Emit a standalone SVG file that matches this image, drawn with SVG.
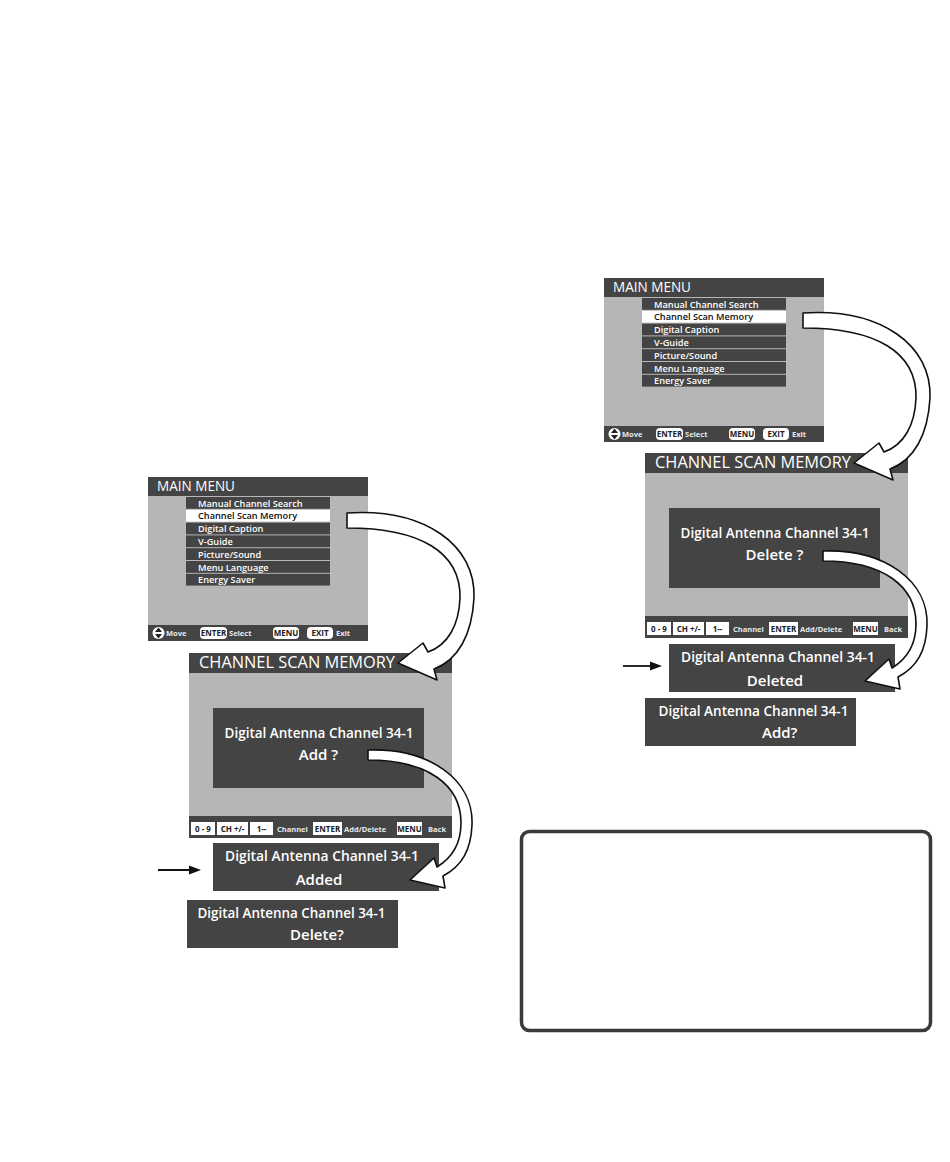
<svg xmlns="http://www.w3.org/2000/svg" width="950" height="1162" viewBox="0 0 950 1162">
<style>
text{font-family:"Open Sans","Noto Sans","DejaVu Sans",sans-serif}
.dark{fill:#444}
.gray{fill:#b6b6b6}
.wt{fill:#fff}
.row{fill:#444}
.hl{fill:#fff}
.item{fill:#fff;font-size:9.2px;font-weight:600}
.itemhl{fill:#111;font-size:9.2px;font-weight:600}
.title{fill:#fff;font-weight:500}
.btn{fill:#fff}
.btnt{fill:#222;font-size:8px;font-weight:bold;text-anchor:middle}
.bar{fill:#e8e8e8;font-size:7.5px;font-weight:bold}
.pop{fill:#fff;font-size:15px;font-weight:600}
.warrow{fill:#fff;stroke:#111;stroke-width:1.6;stroke-linejoin:round}
.barrow{stroke:#111;stroke-width:1.8;fill:none}
</style>
<defs>
<g id="mm">
<rect x="148" y="477" width="220" height="164" class="gray"/>
<rect x="148" y="477" width="220" height="19" class="dark"/>
<text x="157" y="491" class="title" font-size="14" textLength="78" lengthAdjust="spacingAndGlyphs">MAIN MENU</text>
<rect x="186" y="497" width="144" height="11.8" class="row"/>
<rect x="186" y="509.8" width="144" height="11.8" class="hl"/>
<rect x="186" y="522.6" width="144" height="11.8" class="row"/>
<rect x="186" y="535.4" width="144" height="11.8" class="row"/>
<rect x="186" y="548.2" width="144" height="11.8" class="row"/>
<rect x="186" y="561" width="144" height="11.8" class="row"/>
<rect x="186" y="573.8" width="144" height="11.8" class="row"/>
<text x="198" y="506.5" class="item">Manual Channel Search</text>
<text x="198" y="519.3" class="itemhl">Channel Scan Memory</text>
<text x="198" y="532.1" class="item">Digital Caption</text>
<text x="198" y="544.9" class="item">V-Guide</text>
<text x="198" y="557.7" class="item">Picture/Sound</text>
<text x="198" y="570.5" class="item">Menu Language</text>
<text x="198" y="583.3" class="item">Energy Saver</text>
<rect x="148" y="625" width="220" height="16" class="dark"/>
<circle cx="158.5" cy="633" r="6" class="wt"/>
<path d="M155 632 L158.5 627.5 L162 632 Z M155 634 L158.5 638.5 L162 634 Z" fill="#222"/>
<text x="166" y="636" class="bar">Move</text>
<rect x="200" y="627" width="27" height="12" rx="4" class="btn"/>
<text x="213.5" y="636" class="btnt" font-size="7.5">ENTER</text>
<text x="229" y="636" class="bar">Select</text>
<rect x="273" y="627" width="26" height="12" rx="4" class="btn"/>
<text x="286" y="636" class="btnt" font-size="7.5">MENU</text>
<rect x="307" y="627" width="26" height="12" rx="4" class="btn"/>
<text x="320" y="636" class="btnt" font-size="7.5">EXIT</text>
<text x="336" y="636" class="bar">Exit</text>
</g>
<g id="csm">
<rect x="189" y="653" width="263" height="185" class="gray"/>
<rect x="189" y="653" width="263" height="20" class="dark"/>
<text x="199" y="668" class="title" font-size="16.5" textLength="196" lengthAdjust="spacingAndGlyphs">CHANNEL SCAN MEMORY</text>
<rect x="213" y="708" width="211" height="80" class="dark"/>
<text x="319" y="738" class="pop" text-anchor="middle" textLength="189" lengthAdjust="spacingAndGlyphs">Digital Antenna Channel 34-1</text>
<rect x="189" y="816" width="263" height="22" class="dark"/>
<rect x="191" y="822" width="24" height="13" class="btn"/>
<text x="203" y="831.5" class="btnt">0 - 9</text>
<rect x="217" y="822" width="31" height="13" class="btn"/>
<text x="232.5" y="831.5" class="btnt">CH +/-</text>
<rect x="250" y="822" width="23" height="13" class="btn"/>
<text x="261.5" y="831.5" class="btnt">1--</text>
<text x="277" y="831.5" class="bar" font-size="6.5">Channel</text>
<rect x="313" y="822" width="29" height="13" class="btn"/>
<text x="327.5" y="831.5" class="btnt">ENTER</text>
<text x="344" y="831.5" class="bar" font-size="6.5">Add/Delete</text>
<rect x="397" y="822" width="25" height="13" class="btn"/>
<text x="409.5" y="831.5" class="btnt">MENU</text>
<text x="428" y="831.5" class="bar" font-size="6.5">Back</text>
</g>
<path id="wa1" class="warrow" d="M 347 513 C 425 508 476 545 474 598 C 472 635 458 660 434 669 L 437 680 L 398 663 L 423 643 L 428 652 C 448 645 459 625 460 598 C 461 552 420 528 347 528 Z"/>
<path id="wa2" class="warrow" d="M 368 750 C 430 748 474 780 472 825 C 471 850 462 866 443 876 L 445 888 L 410 880 L 434 858 L 437 867 C 455 856 461 840 461 823 C 461 785 428 760 368 760 Z"/>
</defs>

<g id="main-menu-left"><use href="#mm"/></g>
<g id="channel-scan-memory-left"><use href="#csm"/>
<text x="318.5" y="760" class="pop" text-anchor="middle">Add ?</text></g>
<g id="added-left">
<rect x="213" y="843" width="226" height="48" class="dark"/>
<text x="322" y="861" class="pop" text-anchor="middle" textLength="194" lengthAdjust="spacingAndGlyphs">Digital Antenna Channel 34-1</text>
<text x="319" y="885" class="pop" text-anchor="middle">Added</text>
</g>
<g id="delete-left">
<rect x="187" y="900" width="211" height="48" class="dark"/>
<text x="291.5" y="918" class="pop" text-anchor="middle" textLength="188" lengthAdjust="spacingAndGlyphs">Digital Antenna Channel 34-1</text>
<text x="290" y="940" class="pop">Delete?</text>
</g>

<g id="main-menu-right" transform="translate(456,-199)"><use href="#mm"/></g>
<g id="channel-scan-memory-right" transform="translate(456,-200)"><use href="#csm"/>
<text x="318.5" y="760" class="pop" text-anchor="middle">Delete ?</text></g>
<g id="deleted-right" transform="translate(456,-199)">
<rect x="213" y="843" width="226" height="48" class="dark"/>
<text x="322" y="861" class="pop" text-anchor="middle" textLength="194" lengthAdjust="spacingAndGlyphs">Digital Antenna Channel 34-1</text>
<text x="319" y="885" class="pop" text-anchor="middle">Deleted</text>
</g>
<g id="add-right" transform="translate(458,-202)">
<rect x="187" y="900" width="211" height="48" class="dark"/>
<text x="295.5" y="918" class="pop" text-anchor="middle" textLength="190" lengthAdjust="spacingAndGlyphs">Digital Antenna Channel 34-1</text>
<text x="304" y="940" class="pop">Add?</text>
</g>

<g id="note-box">
<rect x="521.5" y="831.5" width="409" height="199" rx="8" fill="none" stroke="#3a3a3a" stroke-width="3.5"/>
</g>

<g id="connectors">
<use href="#wa1"/>
<use href="#wa2"/>
<use href="#wa1" transform="translate(456,-200)"/>
<use href="#wa2" transform="translate(455,-199)"/>
<line x1="158" y1="870" x2="191" y2="870" class="barrow"/>
<polygon points="201,870 189,865.5 189,874.5" fill="#111"/>
<line x1="623" y1="666" x2="652" y2="666" class="barrow"/>
<polygon points="662,666 650,661.5 650,670.5" fill="#111"/>
</g>
</svg>
